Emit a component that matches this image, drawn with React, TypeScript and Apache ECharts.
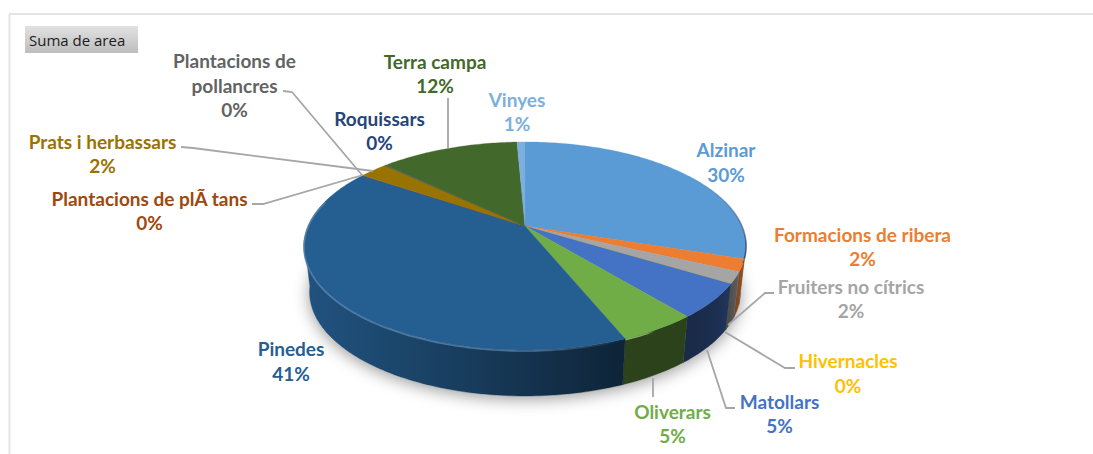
import React, { useEffect, useRef } from "react";
import * as echarts from "echarts";

const categories = [
  "Alzinar", "Formacions de ribera", "Fruiters no cítrics", "Hivernacles", "Matollars", "Oliverars", "Pinedes",
  "Plantacions de plÃ tans", "Plantacions de pollancres", "Prats i herbassars", "Roquissars", "Terra campa", "Vinyes",
];
const shares = [30.0, 1.9, 1.77, 0.03, 5.3, 4.8, 40.6, 0.05, 0.05, 2.45, 0.1, 12.25, 0.7];
const sliceColors = [
  "#5b9bd5", "#ed7d31", "#a5a5a5", "#ffc000", "#4472c4", "#70ad47", "#255e91",
  "#9e480e", "#636363", "#997300", "#264478", "#43682b", "#7cafdd",
];
const buttonLabel = "Suma de area";

// label centre (first line) and leader polyline, in page pixels, one per category
const labelLayout: { x: number; y: number; leader?: number[][] }[] = [
  { x: 726, y: 150.5 },
  { x: 862.5, y: 235 },
  { x: 851, y: 287, leader: [[774, 293], [765, 293], [728, 325]] },
  { x: 848, y: 361.5, leader: [[795, 368], [785, 368], [725, 332]] },
  { x: 779.5, y: 402, leader: [[735, 408], [726, 408], [707, 350]] },
  { x: 672.5, y: 412, leader: [[653, 397], [653, 378]] },
  { x: 291, y: 349.5 },
  { x: 149.5, y: 199, leader: [[252, 204], [263, 204], [363, 175]] },
  { x: 234.5, y: 61.5, leader: [[283, 91], [292, 92], [362, 175]] },
  { x: 102.5, y: 142, leader: [[181, 147], [193, 148], [373, 171]] },
  { x: 379.5, y: 119 },
  { x: 435, y: 62, leader: [[448, 98], [448, 148]] },
  { x: 517, y: 100 },
];

const CX = 525, CY = 226, RX = 216.9, RY = 100.2, PERSP = 0.192, DEPTH = 46, SHRINK = 0.975;
const WALL_FROM = 98, WALL_TO = 262;
const wallShade = [[-1, 0.88], [-0.2, 0.62], [0.43, 0.38], [0.8, 0.38], [0.92, 0.45], [1, 0.68]];

const rad = (d: number) => (d * Math.PI) / 180;
function topPoint(deg: number) {
  const u = Math.sin(rad(deg)), v = -Math.cos(rad(deg));
  const s = 1 / (1 - PERSP * v);
  return [CX + RX * u * s, CY + RY * v * s];
}
function bottomPoint(deg: number) {
  const p = topPoint(deg);
  return [CX + (p[0] - CX) * SHRINK, p[1] + DEPTH];
}
function arc(fn: (d: number) => number[], a: number, b: number) {
  const n = Math.max(2, Math.ceil(Math.abs(b - a)));
  const pts: number[][] = [];
  for (let i = 0; i <= n; i++) pts.push(fn(a + ((b - a) * i) / n));
  return pts;
}
function shadeAt(u: number) {
  if (u <= wallShade[0][0]) return wallShade[0][1];
  for (let i = 1; i < wallShade.length; i++) {
    if (u <= wallShade[i][0]) {
      const [u0, s0] = wallShade[i - 1], [u1, s1] = wallShade[i];
      return s0 + ((s1 - s0) * (u - u0)) / (u1 - u0);
    }
  }
  return wallShade[wallShade.length - 1][1];
}
function mix(hex: string, f: number) {
  const c = [1, 3, 5].map((i) => parseInt(hex.slice(i, i + 2), 16) * f);
  return `rgb(${c.map((x) => Math.round(x)).join(",")})`;
}
function lighten(hex: string, f: number, alpha: number) {
  const c = [1, 3, 5].map((i) => {
    const v = parseInt(hex.slice(i, i + 2), 16);
    return Math.round(v + (255 - v) * f);
  });
  return `rgba(${c.join(",")},${alpha})`;
}
const total = shares.reduce((a, b) => a + b, 0);
const starts: number[] = [];
shares.reduce((acc, v, i) => { starts[i] = acc; return acc + (v / total) * 360; }, 0);

function wrapName(name: string) {
  return name === "Plantacions de pollancres" ? "Plantacions de\npollancres" : name;
}

export default function App() {
  const ref = useRef<HTMLDivElement>(null);
  useEffect(() => {
    document.body.style.margin = "0";
    const chart = echarts.init(ref.current!, undefined, { renderer: "svg" });
    const sliceData = categories.map((n, i) => ({ name: n, value: [shares[i], i] }));
    chart.setOption({
      animation: false,
      backgroundColor: "#ffffff",
      graphic: [
        { type: "line", z: 0, shape: { x1: 9, y1: 14, x2: 1093, y2: 14 }, style: { stroke: "#e4e4e4", lineWidth: 2 } },
        { type: "line", z: 0, shape: { x1: 9.5, y1: 14, x2: 9.5, y2: 454 }, style: { stroke: "#e4e4e4", lineWidth: 2 } },
        {
          type: "rect", z: 1, shape: { x: 25, y: 26, width: 113, height: 27 },
          style: { fill: new echarts.graphic.LinearGradient(0, 0, 0, 1, [{ offset: 0, color: "#e2e2e2" }, { offset: 1, color: "#bdbdbd" }]) },
        },
        {
          type: "text", z: 2, x: 29, y: 39.5,
          style: { text: buttonLabel, fill: "#1c1c1c", font: '15px "Open Sans"', verticalAlign: "middle", align: "left" },
        },
      ],
      series: [
        {
          type: "custom", coordinateSystem: "none", z: 1, silent: true, data: [[0]],
          renderItem: () => ({
            type: "polygon",
            shape: { points: arc(bottomPoint, 0, 360) },
            style: { fill: "#d8d8d8", shadowBlur: 16, shadowColor: "rgba(0,0,0,0.4)", shadowOffsetY: 3 },
          }),
        },
        {
          type: "custom", coordinateSystem: "none", z: 2, silent: true, data: sliceData,
          renderItem: (params: any, api: any) => {
            const i = api.value(1);
            const a0 = starts[i], a1 = a0 + (api.value(0) / total) * 360;
            const color = sliceColors[i];
            const children: any[] = [];
            const w0 = Math.max(a0, WALL_FROM), w1 = Math.min(a1, WALL_TO);
            if (w1 > w0) {
              const upper = arc(topPoint, w0, w1);
              const lower = arc(bottomPoint, w0, w1).reverse();
              const pts = upper.concat(lower);
              const xs = pts.map((p) => p[0]);
              const xMin = Math.min(...xs), xMax = Math.max(...xs);
              const stops = [0, 0.25, 0.5, 0.75, 1].map((t) => ({
                offset: t,
                color: mix(color, shadeAt((xMin + (xMax - xMin) * t - CX) / (RX * 1.02))),
              }));
              const fill = new echarts.graphic.LinearGradient(0, 0, 1, 0, stops);
              children.push({ type: "polygon", shape: { points: pts }, style: { fill, stroke: fill, lineWidth: 0.4 } });
            }
            const top = [[CX, CY]].concat(arc(topPoint, a0, a1));
            children.push({ type: "polygon", shape: { points: top }, style: { fill: color, stroke: color, lineWidth: 0.3 } });
            // bevel highlight along the lit front rim
            const h0 = Math.max(a0, 150), h1 = Math.min(a1, 285);
            if (h1 > h0) {
              const rim = arc(topPoint, h0, h1).map((p) => [p[0], p[1] + 1]);
              children.push({
                type: "polyline", shape: { points: rim },
                style: {
                  fill: "none", lineWidth: 1.6,
                  stroke: new echarts.graphic.LinearGradient(0, 0, 1, 0, [
                    { offset: 0, color: lighten(color, 0.22, 0.9) },
                    { offset: 0.7, color: lighten(color, 0.22, 0.8) },
                    { offset: 1, color: lighten(color, 0.22, 0) },
                  ]),
                },
              });
            }
            // dark edge on the back right rim
            const e0 = Math.max(a0, 55), e1 = Math.min(a1, 110);
            if (e1 > e0) {
              children.push({
                type: "polyline", shape: { points: arc(topPoint, e0, e1) },
                style: {
                  fill: "none", lineWidth: 1.6,
                  stroke: new echarts.graphic.LinearGradient(0, 0, 0, 1, [
                    { offset: 0, color: "rgba(40,60,90,0)" },
                    { offset: 1, color: "rgba(40,60,90,0.75)" },
                  ]),
                },
              });
            }
            return { type: "group", children };
          },
        },
        {
          type: "custom", coordinateSystem: "none", z: 3, silent: true, data: sliceData,
          renderItem: (params: any, api: any) => {
            const i = api.value(1);
            const lay = labelLayout[i];
            const children: any[] = [];
            if (lay.leader) {
              children.push({ type: "polyline", shape: { points: lay.leader }, style: { fill: "none", stroke: "#a6a6a6", lineWidth: 1.8 } });
            }
            const text = `${wrapName(categories[i])}\n${Math.round((api.value(0) / total) * 100)}%`;
            children.push({
              type: "text", x: lay.x, y: lay.y - 13.25,
              style: { text, fill: sliceColors[i], font: 'bold 19px Lato', lineHeight: 24.5, align: "center", verticalAlign: "top" },
            });
            return { type: "group", children };
          },
        },
      ],
    });
    return () => chart.dispose();
  }, []);
  return <div ref={ref} style={{ width: 1093, height: 454 }} />;
}
